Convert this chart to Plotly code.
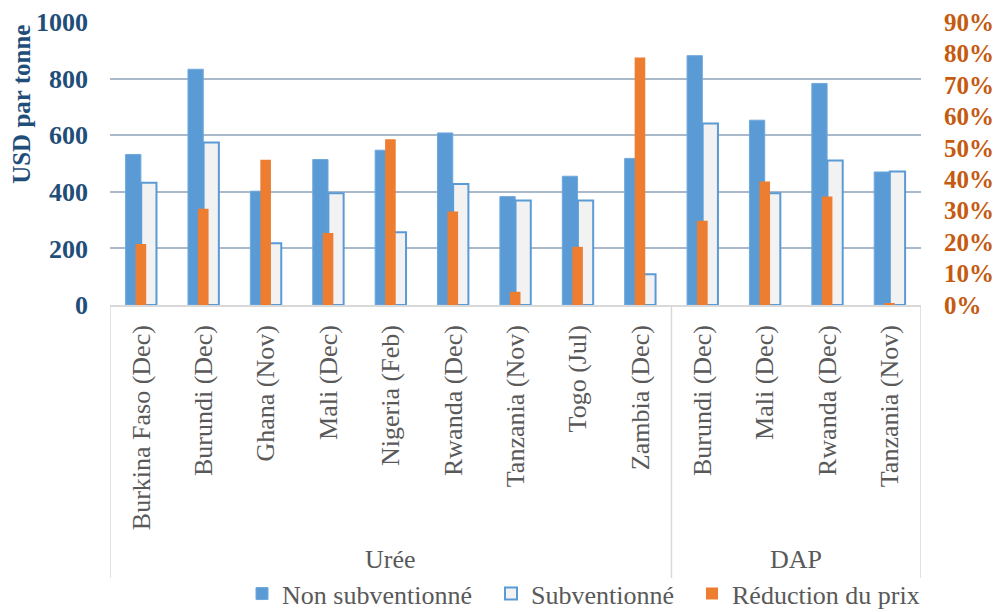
import plotly.graph_objects as go

# Fertiliser prices, USD per tonne, and the price reduction from subsidies
categories = [
    "Burkina Faso (Dec)", "Burundi (Dec)", "Ghana (Nov)", "Mali (Dec)",
    "Nigeria (Feb)", "Rwanda (Dec)", "Tanzania (Nov)", "Togo (Jul)",
    "Zambia (Dec)",
    "Burundi (Dec) ", "Mali (Dec) ", "Rwanda (Dec) ", "Tanzania (Nov) ",
]
category_text = [c.strip() for c in categories]
groups = ["Urée", "DAP"]
group_sizes = [9, 4]

non_subsidised = [532, 833, 402, 514, 547, 608, 383, 455, 518, 881, 653, 783, 470]
subsidised = [432, 574, 218, 395, 257, 428, 369, 369, 109, 641, 395, 511, 472]
reduction_pct = [19.4, 30.6, 46.2, 22.9, 52.7, 29.7, 4.2, 18.5, 78.7, 26.8, 39.3, 34.5, 0.4]

left_ticks = [0, 200, 400, 600, 800, 1000]
right_ticks = [0, 10, 20, 30, 40, 50, 60, 70, 80, 90]

BLUE = "#5B9BD5"
ORANGE = "#ED7D31"
AXIS_BLUE = "#1F4E79"
AXIS_ORANGE = "#C55A11"
TEXT_GREY = "#595959"
SERIF = "Liberation Serif, Times New Roman, serif"

fig = go.Figure()
fig.add_trace(go.Bar(
    x=categories, y=non_subsidised, name="Non subventionné", legend="legend",
    marker=dict(color=BLUE, line=dict(color="#6FA8DC", width=1)),
    offset=-0.25, width=0.245,
))
fig.add_trace(go.Bar(
    x=categories, y=subsidised, name="Subventionné", legend="legend2",
    marker=dict(color="#F2F2F2", line=dict(color=BLUE, width=2)),
    offset=0.0, width=0.245,
))
fig.add_trace(go.Bar(
    x=categories, y=reduction_pct, name="Réduction du prix", yaxis="y2",
    legend="legend3",
    marker=dict(color=ORANGE, line=dict(width=0)),
    offset=-0.09, width=0.17,
))


def legend_box(x_px):
    # One legend entry placed along the bottom row
    return dict(
        orientation="h", x=x_px / 997, xanchor="left", xref="container",
        y=0.03, yanchor="middle", yref="container",
        font=dict(family=SERIF, size=26, color=TEXT_GREY),
        itemwidth=30, bgcolor="rgba(0,0,0,0)",
    )


fig.update_layout(
    width=997, height=612,
    margin=dict(l=110, r=76, t=22, b=307, autoexpand=False),
    paper_bgcolor="white", plot_bgcolor="white",
    font=dict(family=SERIF, color=TEXT_GREY),
    barmode="overlay",
    showlegend=True,
    legend=legend_box(242),
    legend2=legend_box(491),
    legend3=legend_box(692),
    xaxis=dict(
        type="category", categoryorder="array", categoryarray=categories,
        tickmode="array", tickvals=categories, ticktext=category_text,
        tickangle=-90, tickfont=dict(family=SERIF, size=26, color=TEXT_GREY),
        showgrid=False, showline=True, linecolor="#D9D9D9", linewidth=1.5,
        ticks="", ticklabelstandoff=8, range=[-0.5, 12.5],
    ),
    yaxis=dict(
        range=[0, 1000], tickvals=left_ticks,
        tickfont=dict(family=SERIF, size=26, color=AXIS_BLUE, weight="bold"),
        showgrid=True, gridcolor="#A9B9CA", gridwidth=2,
        zeroline=False, showline=False, ticks="", ticklabelstandoff=21,
    ),
    yaxis2=dict(
        range=[0, 90], tickvals=right_ticks,
        ticktext=[f"{t}%" for t in right_ticks],
        overlaying="y", side="right",
        tickfont=dict(family=SERIF, size=25, color=AXIS_ORANGE, weight="bold"),
        showgrid=False, zeroline=False, showline=False, ticks="",
        ticklabelstandoff=22,
    ),
)

# Left axis title
fig.add_annotation(
    text="USD par tonne", textangle=-90, showarrow=False,
    xref="paper", yref="paper", x=-0.11, y=0.71, xanchor="center", yanchor="middle",
    font=dict(family=SERIF, size=25, color=AXIS_BLUE, weight="bold"),
)

# Group separators below the category axis and group labels
bounds = [-0.5]
for n in group_sizes:
    bounds.append(bounds[-1] + n)
for xb in bounds:
    fig.add_shape(
        type="line", xref="x", yref="paper", x0=xb, x1=xb, y0=0, y1=-0.965,
        line=dict(color="#D9D9D9", width=1.5),
    )
for g, a, b in zip(groups, bounds[:-1], bounds[1:]):
    fig.add_annotation(
        text=g, showarrow=False, xref="x", yref="paper",
        x=(a + b) / 2, y=-0.9, xanchor="center", yanchor="middle",
        font=dict(family=SERIF, size=26, color=TEXT_GREY),
    )

fig.write_html("out.html")
